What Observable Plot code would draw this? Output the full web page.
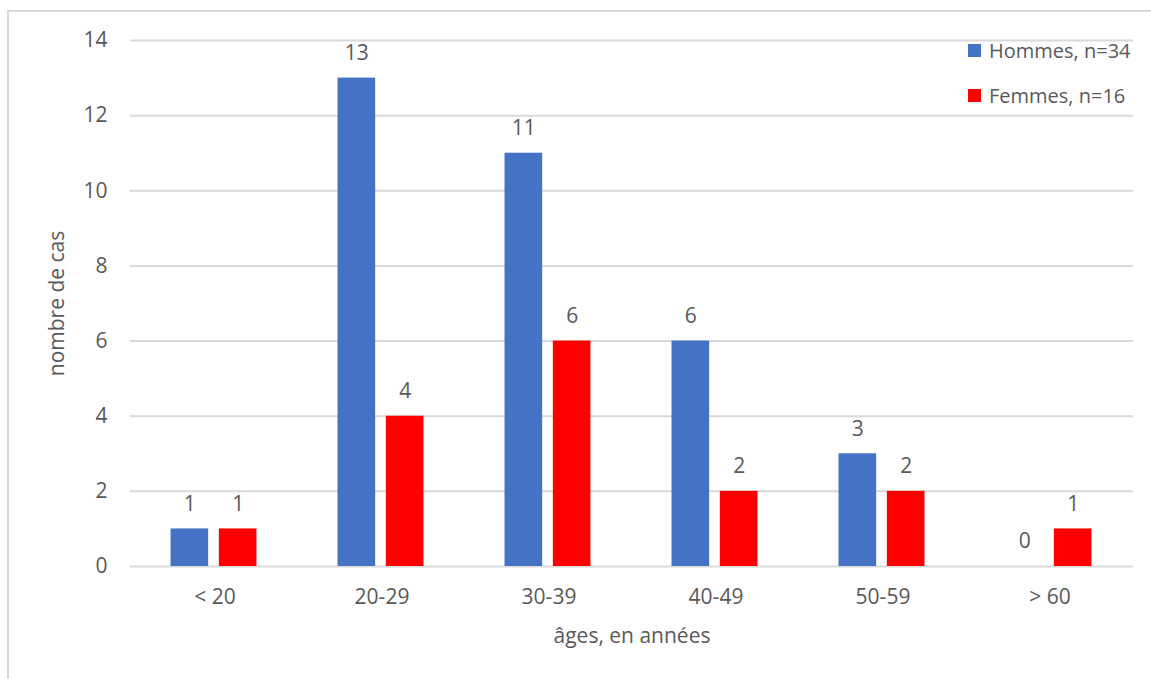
<!DOCTYPE html>
<html>
<head>
<meta charset="utf-8">
<script src="https://cdn.jsdelivr.net/npm/d3@7"></script>
<script src="https://cdn.jsdelivr.net/npm/@observablehq/plot@0.6"></script>
<style>
  html, body { margin: 0; padding: 0; background: #fff; overflow: hidden; }
  body { width: 1151px; height: 679px; position: relative; font-family: "Open Sans", sans-serif; }
  #frame { position: absolute; left: 7px; top: 10px; width: 1300px; height: 900px; border: 2px solid #d9d9d9; box-sizing: border-box; }
  #chart { position: absolute; left: 0; top: 0; }
  #legend { position: absolute; left: 968px; top: 35px; color: #595959; font-size: 20px; }
  .item { display: flex; align-items: center; height: 30px; margin-bottom: 15px; white-space: nowrap; }
  .sw { width: 13px; height: 13px; margin-right: 8px; }
</style>
</head>
<body>
<div id="frame"></div>
<div id="chart"></div>
<div id="legend"></div>
<script>
const categories = ["< 20", "20-29", "30-39", "40-49", "50-59", "> 60"];
const hommes = [1, 13, 11, 6, 3, 0];
const femmes = [1, 4, 6, 2, 2, 1];
const seriesNames = ["Hommes, n=34", "Femmes, n=16"];
const seriesColors = ["#4472C4", "#FF0000"];
const yTicks = [0, 2, 4, 6, 8, 10, 12, 14];

const dataH = categories.map((c, i) => ({cat: c, value: hommes[i]}));
const dataF = categories.map((c, i) => ({cat: c, value: femmes[i]}));

const W = 1151, H = 679, mL = 130, mR = 18;
const bw = (W - mL - mR) / categories.length;
// bar layout within each band (fractions of band width)
const barW = 0.226 * bw, gap = 0.063 * bw;
const groupL = (bw - (2 * barW + gap)) / 2 - 1;
const insH = {insetLeft: groupL, insetRight: bw - groupL - barW};
const insF = {insetLeft: groupL + barW + gap, insetRight: bw - groupL - 2 * barW - gap};
const offH = groupL + barW / 2 - bw / 2;
const offF = groupL + 1.5 * barW + gap - bw / 2;

const textColor = "#595959";
const fs = 21;
const chart = Plot.plot({
  width: W,
  height: H,
  marginLeft: mL,
  marginRight: mR,
  marginTop: 40,
  marginBottom: 113,
  style: {fontFamily: "Open Sans, sans-serif", fontSize: fs + "px", color: textColor, background: "transparent"},
  x: {domain: categories, padding: 0, tickSize: 0, tickPadding: 23, label: "âges, en années", labelAnchor: "center", labelOffset: 76, labelArrow: "none"},
  y: {domain: [0, 14], ticks: yTicks, tickSize: 0, tickPadding: 23, label: "nombre de cas", labelAnchor: "center", labelOffset: 81, labelArrow: "none"},
  marks: [
    Plot.ruleY(yTicks, {stroke: "#d9d9d9", strokeWidth: 2}),
    Plot.barY(dataH, {x: "cat", y: "value", fill: seriesColors[0], ...insH}),
    Plot.barY(dataF, {x: "cat", y: "value", fill: seriesColors[1], ...insF}),
    Plot.text(dataH, {x: "cat", y: "value", text: d => String(d.value), dx: offH, dy: -25, fill: textColor, fontSize: fs}),
    Plot.text(dataF, {x: "cat", y: "value", text: d => String(d.value), dx: offF, dy: -25, fill: textColor, fontSize: fs})
  ]
});
document.getElementById("chart").appendChild(chart);

const legend = document.getElementById("legend");
seriesNames.forEach((name, i) => {
  const item = document.createElement("div");
  item.className = "item";
  const sw = document.createElement("div");
  sw.className = "sw";
  sw.style.background = seriesColors[i];
  const label = document.createElement("span");
  label.textContent = name;
  item.appendChild(sw);
  item.appendChild(label);
  legend.appendChild(item);
});
</script>
</body>
</html>
